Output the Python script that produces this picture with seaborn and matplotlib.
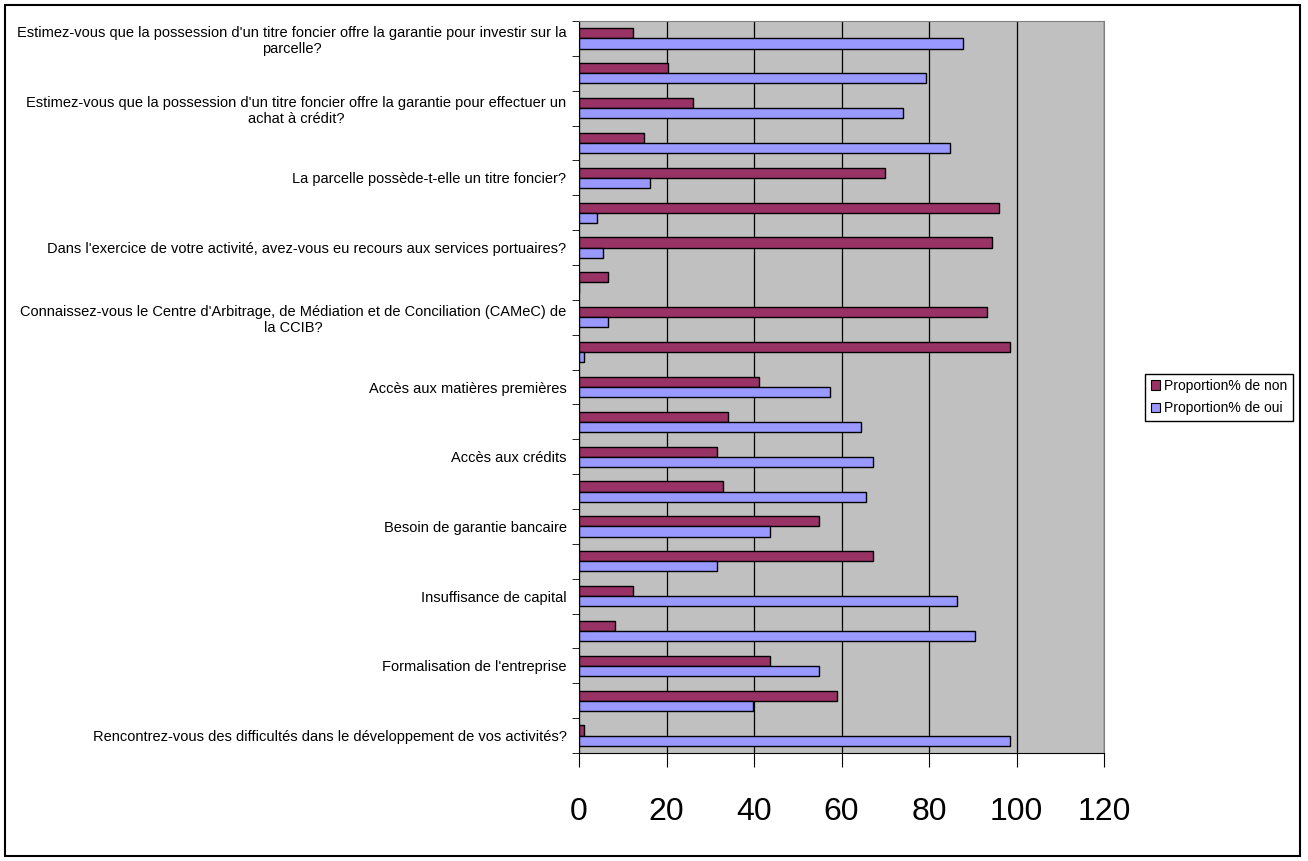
import pandas as pd
import seaborn as sns
import matplotlib.pyplot as plt
from matplotlib.patches import Rectangle, Patch

# Questions, top to bottom (only every other one gets a label, as in the original)
question_labels = [
    "Estimez-vous que la possession d'un titre foncier offre la garantie pour investir sur la\nparcelle?",
    "",
    "Estimez-vous que la possession d'un titre foncier offre la garantie pour effectuer un\nachat à crédit?",
    "",
    "La parcelle possède-t-elle un titre foncier?",
    "",
    "Dans l'exercice de votre activité, avez-vous eu recours aux services portuaires?",
    "",
    "Connaissez-vous le Centre d'Arbitrage, de Médiation et de Conciliation (CAMeC) de\nla CCIB?",
    "",
    "Accès aux matières premières",
    "",
    "Accès aux crédits",
    "",
    "Besoin de garantie bancaire",
    "",
    "Insuffisance de capital",
    "",
    "Formalisation de l'entreprise",
    "",
    "Rencontrez-vous des difficultés dans le développement de vos activités?",
]
question_ids = [f"Q{i + 1:02d}" for i in range(len(question_labels))]

pct_non = [12.3, 20.4, 26.1, 14.9, 69.9, 96.1, 94.5, 6.7, 93.2, 98.6,
           41.1, 34.1, 31.5, 32.8, 54.9, 67.1, 12.3, 8.2, 43.7, 59.0, 1.2]
pct_oui = [87.7, 79.4, 74.1, 84.8, 16.2, 4.1, 5.5, 0.0, 6.7, 1.2,
           57.4, 64.4, 67.1, 65.7, 43.7, 31.5, 86.4, 90.5, 54.8, 39.8, 98.6]

series_names = ["Proportion% de non", "Proportion% de oui"]
colors = ["#993366", "#9999FF"]

df = pd.DataFrame({
    "question": question_ids * 2,
    "serie": [series_names[0]] * len(pct_non) + [series_names[1]] * len(pct_oui),
    "value": pct_non + pct_oui,
})

font = ["Liberation Sans", "DejaVu Sans"]
plt.rcParams["font.family"] = font

fig = plt.figure(figsize=(13.08, 8.61), dpi=100)
W, H = 1308, 861
ax = fig.add_axes([579 / W, 1 - 753 / H, (1104 - 579) / W, (753 - 21) / H])
ax.set_facecolor("#C0C0C0")

sns.barplot(data=df, x="value", y="question", hue="serie", order=question_ids,
            hue_order=series_names, palette=colors, orient="h", width=0.58,
            edgecolor="black", linewidth=1, saturation=1, legend=False, ax=ax)

ax.set_xlim(0, 120)
ax.set_xticks(range(0, 121, 20))
ax.set_xlabel("")
ax.set_ylabel("")
ax.grid(axis="x", color="black", linewidth=0.9)
ax.set_axisbelow(True)

for side in ["top", "right"]:
    ax.spines[side].set_color("#808080")
for side in ["left", "bottom"]:
    ax.spines[side].set_color("black")

# category labels in the middle, tick marks on the boundaries
ax.set_yticks(range(len(question_ids)))
ax.set_yticklabels(question_labels, fontsize=10.5, linespacing=1.2)
for lbl in ax.get_yticklabels():
    lbl.set_multialignment("center")
ax.tick_params(axis="y", which="major", length=0, pad=9)
ax.set_yticks([i - 0.5 for i in range(len(question_ids) + 1)], minor=True)
ax.tick_params(axis="y", which="minor", length=5, color="black")
ax.tick_params(axis="x", length=10, pad=22, color="black", labelsize=23)

handles = [Patch(facecolor=c, edgecolor="black", linewidth=0.8) for c in colors]
fig.legend(handles, series_names, loc="lower left",
           bbox_to_anchor=(1145 / W, 1 - 421 / H), fontsize=10,
           frameon=True, fancybox=False, edgecolor="black", framealpha=1,
           handlelength=0.7, handleheight=0.7, handletextpad=0.3,
           borderpad=0.4, labelspacing=0.6, borderaxespad=0)

fig.patches.append(Rectangle((5 / W, 5 / H), 1295 / W, 851 / H, transform=fig.transFigure,
                             fill=False, edgecolor="black", linewidth=1.5))

fig.savefig("out.png", dpi=100, facecolor="white")
